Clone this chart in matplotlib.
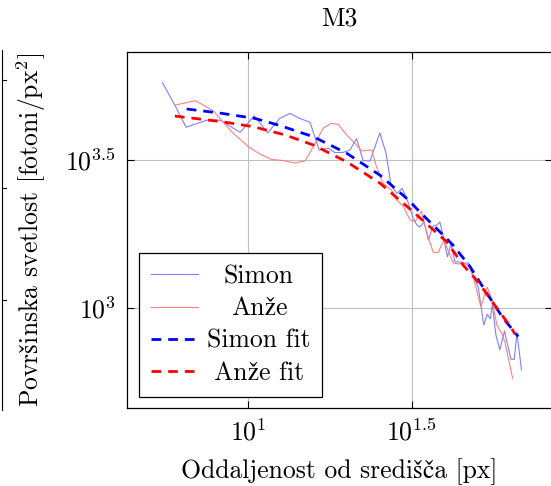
import numpy as np
import matplotlib
matplotlib.use('Agg')
import matplotlib.pyplot as plt
from matplotlib.lines import Line2D

plt.rcParams['font.family'] = ['cmr10', 'STIXGeneral']
plt.rcParams['mathtext.fontset'] = 'cm'
plt.rcParams['axes.formatter.use_mathtext'] = True

# values are log10 of radius [px] and log10 of surface brightness
simon_logr = [0.740, 0.778, 0.812, 0.875, 0.916, 0.977, 1.020, 1.061, 1.098, 1.129,
              1.159, 1.190, 1.218, 1.246, 1.266, 1.291, 1.312, 1.332, 1.352, 1.373,
              1.403, 1.422, 1.437, 1.455, 1.471, 1.483, 1.492, 1.504, 1.516, 1.525,
              1.538, 1.551, 1.565, 1.577, 1.586, 1.595, 1.609, 1.620, 1.632, 1.647,
              1.663, 1.673, 1.684, 1.703, 1.720, 1.731, 1.740, 1.746, 1.757, 1.769,
              1.783, 1.792, 1.803, 1.813, 1.821, 1.835]
simon_logI = [3.762, 3.686, 3.611, 3.635, 3.635, 3.594, 3.650, 3.592, 3.641, 3.658,
              3.641, 3.628, 3.534, 3.540, 3.525, 3.526, 3.534, 3.573, 3.498, 3.497,
              3.592, 3.523, 3.415, 3.387, 3.404, 3.375, 3.348, 3.304, 3.280, 3.273,
              3.290, 3.229, 3.276, 3.280, 3.290, 3.249, 3.172, 3.216, 3.155, 3.155,
              3.150, 3.152, 3.116, 3.070, 2.941, 2.978, 2.962, 3.012, 2.907, 2.857,
              2.921, 2.877, 2.825, 2.825, 2.914, 2.789]

anze_logr = [0.778, 0.841, 0.895, 0.951, 1.002, 1.038, 1.073, 1.109, 1.144, 1.175,
             1.200, 1.230, 1.253, 1.276, 1.302, 1.348, 1.378, 1.393, 1.413, 1.439,
             1.454, 1.474, 1.495, 1.510, 1.530, 1.546, 1.566, 1.581, 1.598, 1.627,
             1.644, 1.657, 1.673, 1.688, 1.711, 1.730, 1.745, 1.760, 1.774, 1.784,
             1.808]
anze_logI = [3.686, 3.701, 3.667, 3.596, 3.545, 3.520, 3.502, 3.498, 3.490, 3.497,
             3.545, 3.607, 3.624, 3.621, 3.585, 3.531, 3.534, 3.477, 3.421, 3.398,
             3.365, 3.344, 3.297, 3.291, 3.327, 3.253, 3.187, 3.187, 3.229, 3.151,
             3.148, 3.151, 3.144, 3.104, 3.003, 3.070, 3.026, 2.941, 2.914, 2.885,
             2.761]

simon_fit_logr = [0.814, 0.916, 1.022, 1.098, 1.200, 1.302, 1.403, 1.490, 1.525, 1.586,
                  1.626, 1.678, 1.729, 1.779, 1.825]
simon_fit_logI = [3.673, 3.659, 3.641, 3.617, 3.579, 3.523, 3.449, 3.365, 3.324, 3.257,
                  3.212, 3.139, 3.049, 2.964, 2.902]

anze_fit_logr = [0.778, 0.921, 1.017, 1.114, 1.200, 1.302, 1.403, 1.495, 1.607, 1.657,
                 1.703, 1.749, 1.805, 1.815]
anze_fit_logI = [3.649, 3.630, 3.613, 3.585, 3.551, 3.494, 3.422, 3.334, 3.223, 3.144,
                 3.087, 3.015, 2.930, 2.910]

fs = 18.5
fig = plt.figure(figsize=(5.51, 4.86), dpi=100)
ax = fig.add_axes([127/551, 78/486, 425/551, 356/486])

ax.plot(10**np.array(simon_logr), 10**np.array(simon_logI), color='#8080ff', lw=0.8, label='Simon')
ax.plot(10**np.array(anze_logr), 10**np.array(anze_logI), color='#ff8080', lw=0.8, label='Anže')
ax.plot(10**np.array(simon_fit_logr), 10**np.array(simon_fit_logI), color='blue', lw=2,
        ls=(0, (3.5, 2.5)), label='Simon fit')
ax.plot(10**np.array(anze_fit_logr), 10**np.array(anze_fit_logI), color='red', lw=2,
        ls=(0, (3.5, 2.5)), label='Anže fit')

ax.set_xscale('log')
ax.set_yscale('log')
ax.set_xlim(10**0.632, 10**1.928)
ax.set_ylim(10**2.660, 10**3.866)
ax.set_xticks([10, 10**1.5])
ax.set_xticklabels([r'$10^{1}$', r'$10^{1.5}$'], fontsize=fs)
ax.set_yticks([1000, 10**3.5])
ax.set_yticklabels([r'$10^{3}$', r'$10^{3.5}$'], fontsize=fs)
ax.minorticks_off()
ax.tick_params(direction='in', length=5, width=0.8, top=True, right=True, pad=8)
ax.grid(True, color='#c0c0c0', lw=0.8)
for s in ax.spines.values():
    s.set_linewidth(0.9)

ax.set_title('M3', fontsize=fs, pad=19)
ax.set_xlabel('Oddaljenost od središča [px]', fontsize=fs, labelpad=9)
ax.set_ylabel(r'Povr$\mathrm{š}$inska svetlost [fotoni/px$^2$]', fontsize=fs, labelpad=12)

leg = ax.legend(loc='lower left', bbox_to_anchor=(12/425, 11/356), fontsize=fs,
                fancybox=False, framealpha=1, edgecolor='black', borderaxespad=0,
                handlelength=1.85, handletextpad=0.35, labelspacing=0.34, borderpad=0.45)
leg.get_frame().set_linewidth(0.9)

# neighbouring panel edge on the left
fig.add_artist(Line2D([2/551, 2/551], [1-50/486, 1-410/486], color='black', lw=0.8))
for yt in [80, 188, 300]:
    fig.add_artist(Line2D([2/551, 6/551], [1-yt/486, 1-yt/486], color='black', lw=0.8))

# center legend texts like pgfplots
fig.canvas.draw()
texts = leg.get_texts()
widths = [t.get_window_extent().width for t in texts]
mw = max(widths)
for t, w in zip(texts, widths):
    t.set_position(((mw - w) / 2, 0))

fig.savefig('out.png', dpi=100)
